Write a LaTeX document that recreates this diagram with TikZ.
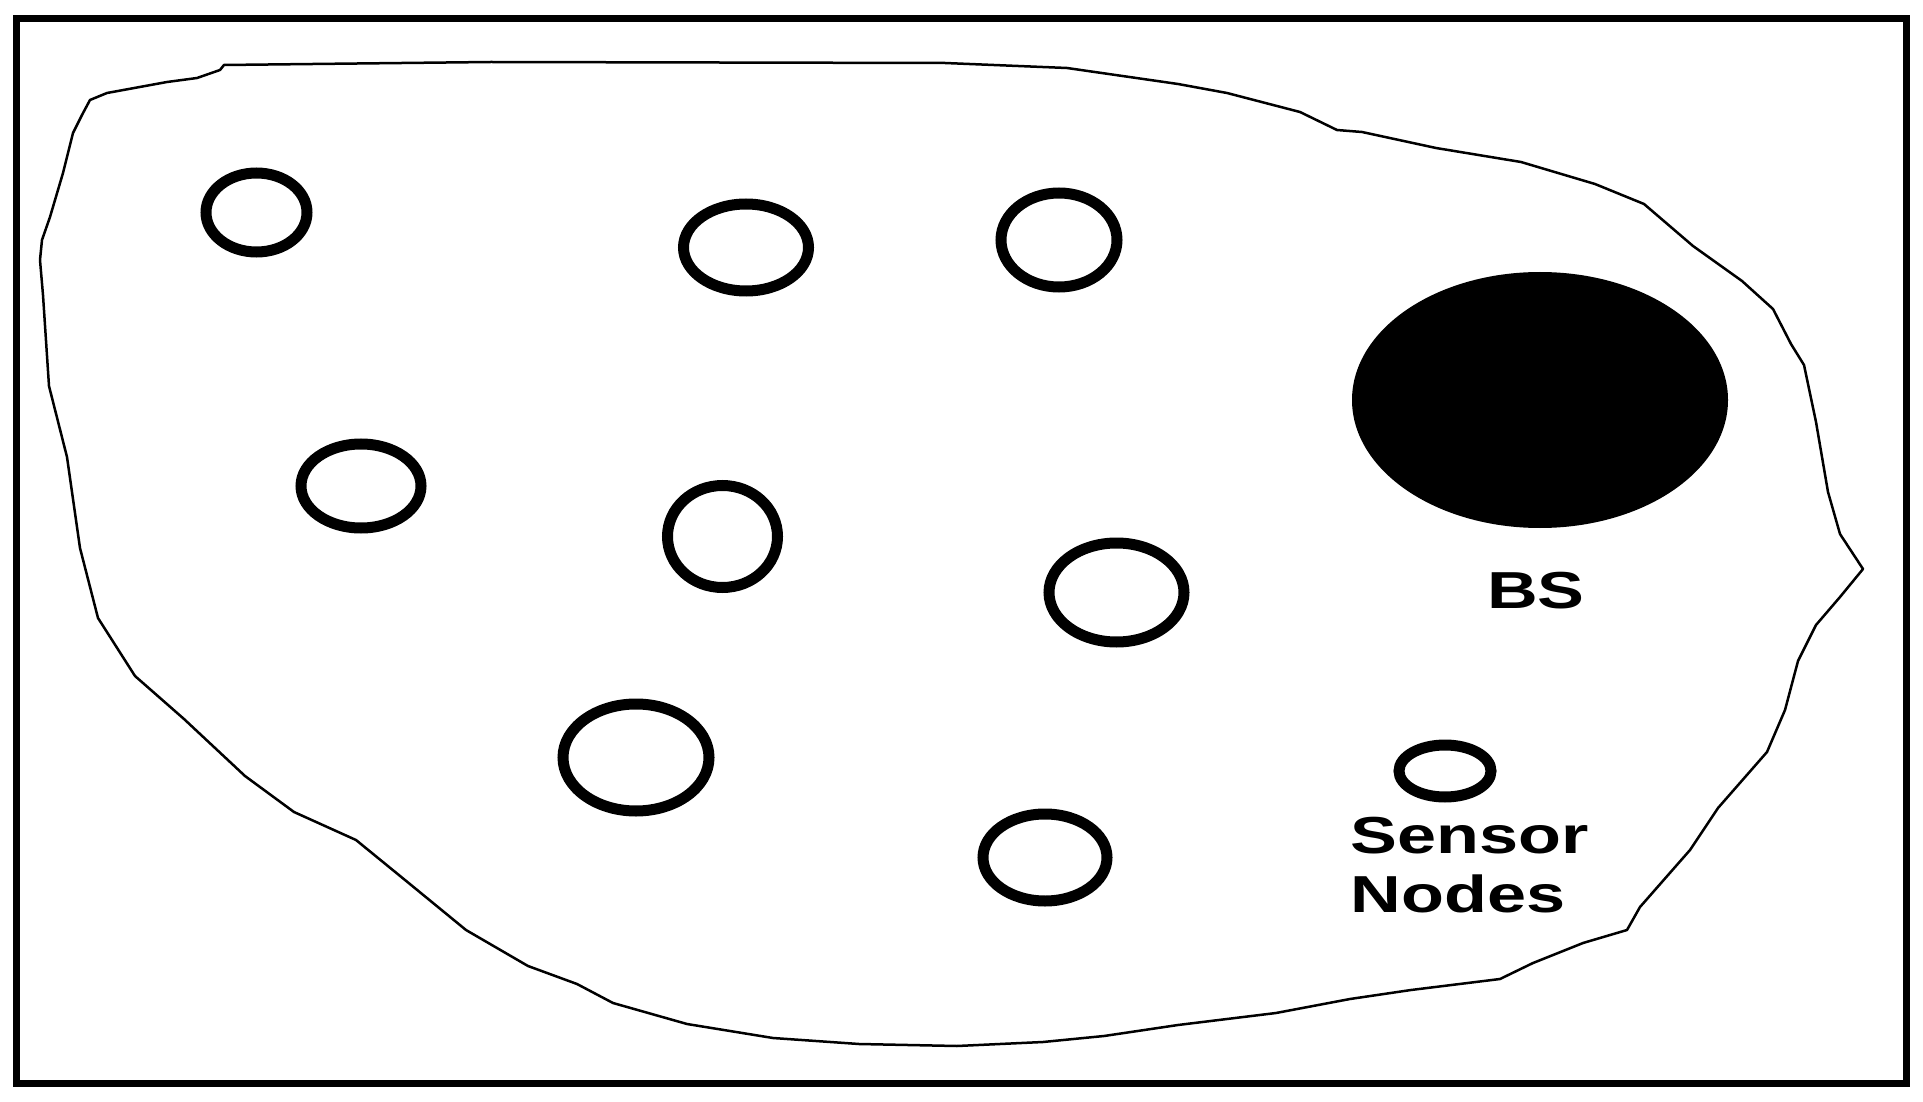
\documentclass[tikz,border=0pt]{standalone}
\usepackage{fontspec}
\newfontfamily\lblfont{Liberation Sans}[FakeStretch=1.35]
\tikzset{
  sensor/.style={line width=1.1mm},
  field/.style={line width=0.25mm, line join=round},
  lbl/.style={font=\lblfont\bfseries\fontsize{14.8}{16.8}\selectfont, inner sep=0pt}
}

\begin{document}
\begin{tikzpicture}[x=0.1mm,y=-0.1mm]
			\useasboundingbox (0,0) rectangle (1923,1102);
			\draw[line width=0.7mm] (16.5,19) rectangle (1906,1083);
			\draw[field] (224,65) -- (491,62) -- (945,63) -- (1067,68) -- (1178,84) -- (1227,93) -- (1300,112) -- (1337,130) -- (1362,132) -- (1436,148) -- (1521,162) -- (1595,184) -- (1644,204) -- (1693,246) -- (1742,281) -- (1773,309) -- (1791,344) -- (1804,365) -- (1816,422) -- (1828,492) -- (1840,534) -- (1863,569) -- (1840,597) -- (1816,625) -- (1798,661) -- (1785,710) -- (1767,752) -- (1718,808) -- (1690,850) -- (1640,907) -- (1627,930) -- (1583,943) -- (1533,963) -- (1500,979) -- (1411,990) -- (1350,999) -- (1276,1013) -- (1178,1025) -- (1104,1036) -- (1043,1042) -- (957,1046) -- (859,1044) -- (773,1038) -- (687,1024) -- (613,1003) -- (577,984) -- (528,966) -- (466,930) -- (405,880) -- (356,840) -- (294,812) -- (245,776) -- (184,719) -- (135,676) -- (98,618) -- (80,548) -- (67,457) -- (49,386) -- (43,295) -- (40,260) -- (42,240) -- (50,217) -- (63,173) -- (73,133) -- (82,115) -- (90,100) -- (107,93) -- (167,82) -- (197,78) -- (220,70) -- cycle;
			\draw[sensor] (256.5,212.5) ellipse [x radius=50.5, y radius=39.5];
			\draw[sensor] (746,247.5) ellipse [x radius=62.5, y radius=43.5];
			\draw[sensor] (1059,240) ellipse [x radius=58, y radius=47];
			\draw[sensor] (361,486) ellipse [x radius=60, y radius=42];
			\draw[sensor] (722.5,536.5) ellipse [x radius=55, y radius=51];
			\draw[sensor] (1116.5,592.5) ellipse [x radius=67.5, y radius=49.5];
			\draw[sensor] (636,757.5) ellipse [x radius=73, y radius=53.5];
			\draw[sensor] (1045,857.5) ellipse [x radius=62, y radius=43.5];
			\draw[sensor] (1445,771) ellipse [x radius=46, y radius=26];
			\fill (1540,400) ellipse [x radius=188, y radius=128];
			\node[lbl] (bs) at (1536,591) {BS};
			\node[lbl, anchor=north west, align=left] (sn) at (1350,816) {Sensor\\Nodes};
		\end{tikzpicture}
\end{document}
